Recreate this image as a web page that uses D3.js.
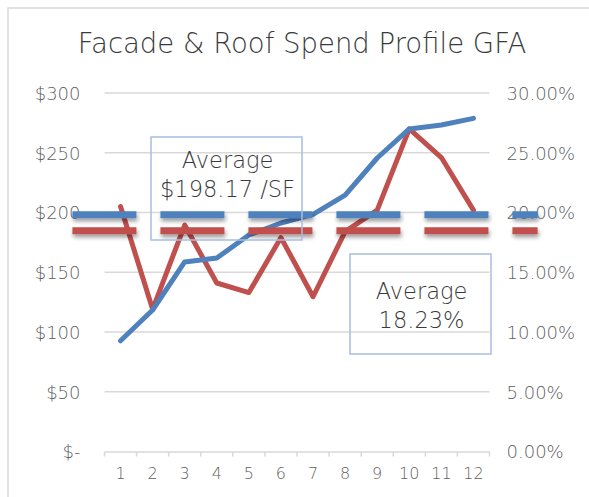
<!DOCTYPE html>
<html>
<head>
<meta charset="utf-8">
<script src="https://cdn.jsdelivr.net/npm/d3@7"></script>
<style>
  body { margin: 0; background: #fff; }
  text { font-family: "DejaVu Sans", sans-serif; font-weight: 200; }
</style>
</head>
<body>
<svg id="chart" width="589" height="497"></svg>
<script>
// data
const months = ["1", "2", "3", "4", "5", "6", "7", "8", "9", "10", "11", "12"];
const costPerSF = [92.7, 118.4, 158.6, 161.9, 181.2, 191.2, 198.5, 214.6, 245.6, 269.9, 273.2, 278.8];
const spendPct = [20.5, 11.9, 18.95, 14.1, 13.3, 17.9, 12.95, 18.4, 20.2, 27.0, 24.6, 20.2];
const avgCost = 198.17;
const avgPct = 18.23;
const leftTicks = [0, 50, 100, 150, 200, 250, 300];
const rightTicks = [0, 5, 10, 15, 20, 25, 30];

const blue = "#4f81bd", red = "#c0504d", grid = "#d9d9d9", txt = "#5f5f5f";
const font = "'DejaVu Sans', sans-serif";

const svg = d3.select("#chart");

// outer chart frame
svg.append("rect")
  .attr("x", 8).attr("y", 8)
  .attr("width", 600).attr("height", 520)
  .attr("fill", "none").attr("stroke", grid).attr("stroke-width", 1.5);

const margin = {left: 104.5, right: 489.5, top: 93, bottom: 451.5};

const x = d3.scaleBand().domain(months).range([margin.left, margin.right]);
const yL = d3.scaleLinear().domain([0, 300]).range([margin.bottom, margin.top]);
const yR = d3.scaleLinear().domain([0, 30]).range([margin.bottom, margin.top]);

// shadow for the average lines
const defs = svg.append("defs");
const f = defs.append("filter").attr("id", "shadow")
  .attr("filterUnits", "userSpaceOnUse")
  .attr("x", 0).attr("y", 0).attr("width", 589).attr("height", 497);
f.append("feDropShadow").attr("dx", 1).attr("dy", 3).attr("stdDeviation", 2)
  .attr("flood-color", "#000").attr("flood-opacity", 0.4);

svg.append("text")
  .attr("x", 302).attr("y", 53)
  .attr("text-anchor", "middle")
  .style("font-size", "27.5px")
  .attr("fill", "#3a3a3a")
  .text("Facade & Roof Spend Profile GFA");

// gridlines
svg.append("g").selectAll("line")
  .data(leftTicks.slice(1))
  .enter().append("line")
  .attr("x1", margin.left).attr("x2", margin.right)
  .attr("y1", d => yL(d)).attr("y2", d => yL(d))
  .attr("stroke", grid).attr("stroke-width", 1.5);

// left axis
const leftAxis = svg.append("g")
  .attr("transform", "translate(" + (margin.left - 24) + ",0)")
  .call(d3.axisLeft(yL).tickValues(leftTicks).tickSize(0).tickPadding(0)
    .tickFormat(d => d === 0 ? "$-" : "$" + d));
leftAxis.select(".domain").remove();
leftAxis.selectAll("text").style("font-size", "18px").attr("fill", txt)
  .style("font-family", font).style("font-weight", 200).attr("dy", "0.35em");

// right axis
const rightAxis = svg.append("g")
  .attr("transform", "translate(" + (margin.right + 17) + ",0)")
  .call(d3.axisRight(yR).tickValues(rightTicks).tickSize(0).tickPadding(0)
    .tickFormat(d => d.toFixed(2) + "%"));
rightAxis.select(".domain").remove();
rightAxis.selectAll("text").style("font-size", "18px").attr("fill", txt)
  .style("font-family", font).style("font-weight", 200).attr("dy", "0.35em");

// bottom axis
const bottomAxis = svg.append("g")
  .attr("transform", "translate(0," + margin.bottom + ")")
  .call(d3.axisBottom(x).tickSize(0).tickPadding(16));
bottomAxis.select(".domain").attr("stroke", grid).attr("stroke-width", 1.5);
bottomAxis.selectAll("text").style("font-size", "16px").attr("fill", txt)
  .style("font-family", font).style("font-weight", 200);
// tick marks between categories
const bounds = months.map(m => x(m)).concat([x(months[11]) + x.bandwidth()]);
bottomAxis.selectAll(".sep").data(bounds).enter().append("line")
  .attr("x1", d => d).attr("x2", d => d)
  .attr("y1", 0).attr("y2", 5)
  .attr("stroke", grid).attr("stroke-width", 1.5);

const cx = d => x(d) + x.bandwidth() / 2;

// data lines
svg.append("path")
  .datum(months.map((m, i) => [cx(m), yR(spendPct[i])]))
  .attr("d", d3.line())
  .attr("fill", "none").attr("stroke", red).attr("stroke-width", 5)
  .attr("stroke-linejoin", "round").attr("stroke-linecap", "round");

svg.append("path")
  .datum(months.map((m, i) => [cx(m), yL(costPerSF[i])]))
  .attr("d", d3.line())
  .attr("fill", "none").attr("stroke", blue).attr("stroke-width", 5)
  .attr("stroke-linejoin", "round").attr("stroke-linecap", "round");

// average lines (dashed, extend past the plot)
const avgStart = x(months[0]) - x.bandwidth();
const avgEnd = x(months[11]) + x.bandwidth() * 2.5;
[[yR(avgPct) - 3, red], [yL(avgCost), blue]].forEach(([yy, c]) => {
  svg.append("line")
    .attr("x1", avgStart).attr("x2", avgEnd)
    .attr("y1", yy).attr("y2", yy)
    .attr("stroke", c).attr("stroke-width", 7)
    .attr("stroke-dasharray", "64,24")
    .attr("filter", "url(#shadow)");
});

// annotation boxes
const notes = [
  {x: 151, y: 137, w: 151, h: 103, lines: ["Average", "$" + avgCost.toFixed(2) + " /SF"], ty: 168},
  {x: 350, y: 254, w: 141, h: 100, lines: ["Average", avgPct.toFixed(2) + "%"], ty: 299}
];
notes.forEach(n => {
  svg.append("rect")
    .attr("x", n.x).attr("y", n.y).attr("width", n.w).attr("height", n.h)
    .attr("fill", "none").attr("stroke", "#a7bfdf").attr("stroke-width", 1.5);
  n.lines.forEach((t, i) => {
    svg.append("text")
      .attr("x", n.x + n.w / 2 + 1).attr("y", n.ty + i * 29)
      .attr("text-anchor", "middle")
      .style("font-size", "22.5px").attr("fill", "#3a3a3a")
      .text(t);
  });
});
</script>
</body>
</html>
